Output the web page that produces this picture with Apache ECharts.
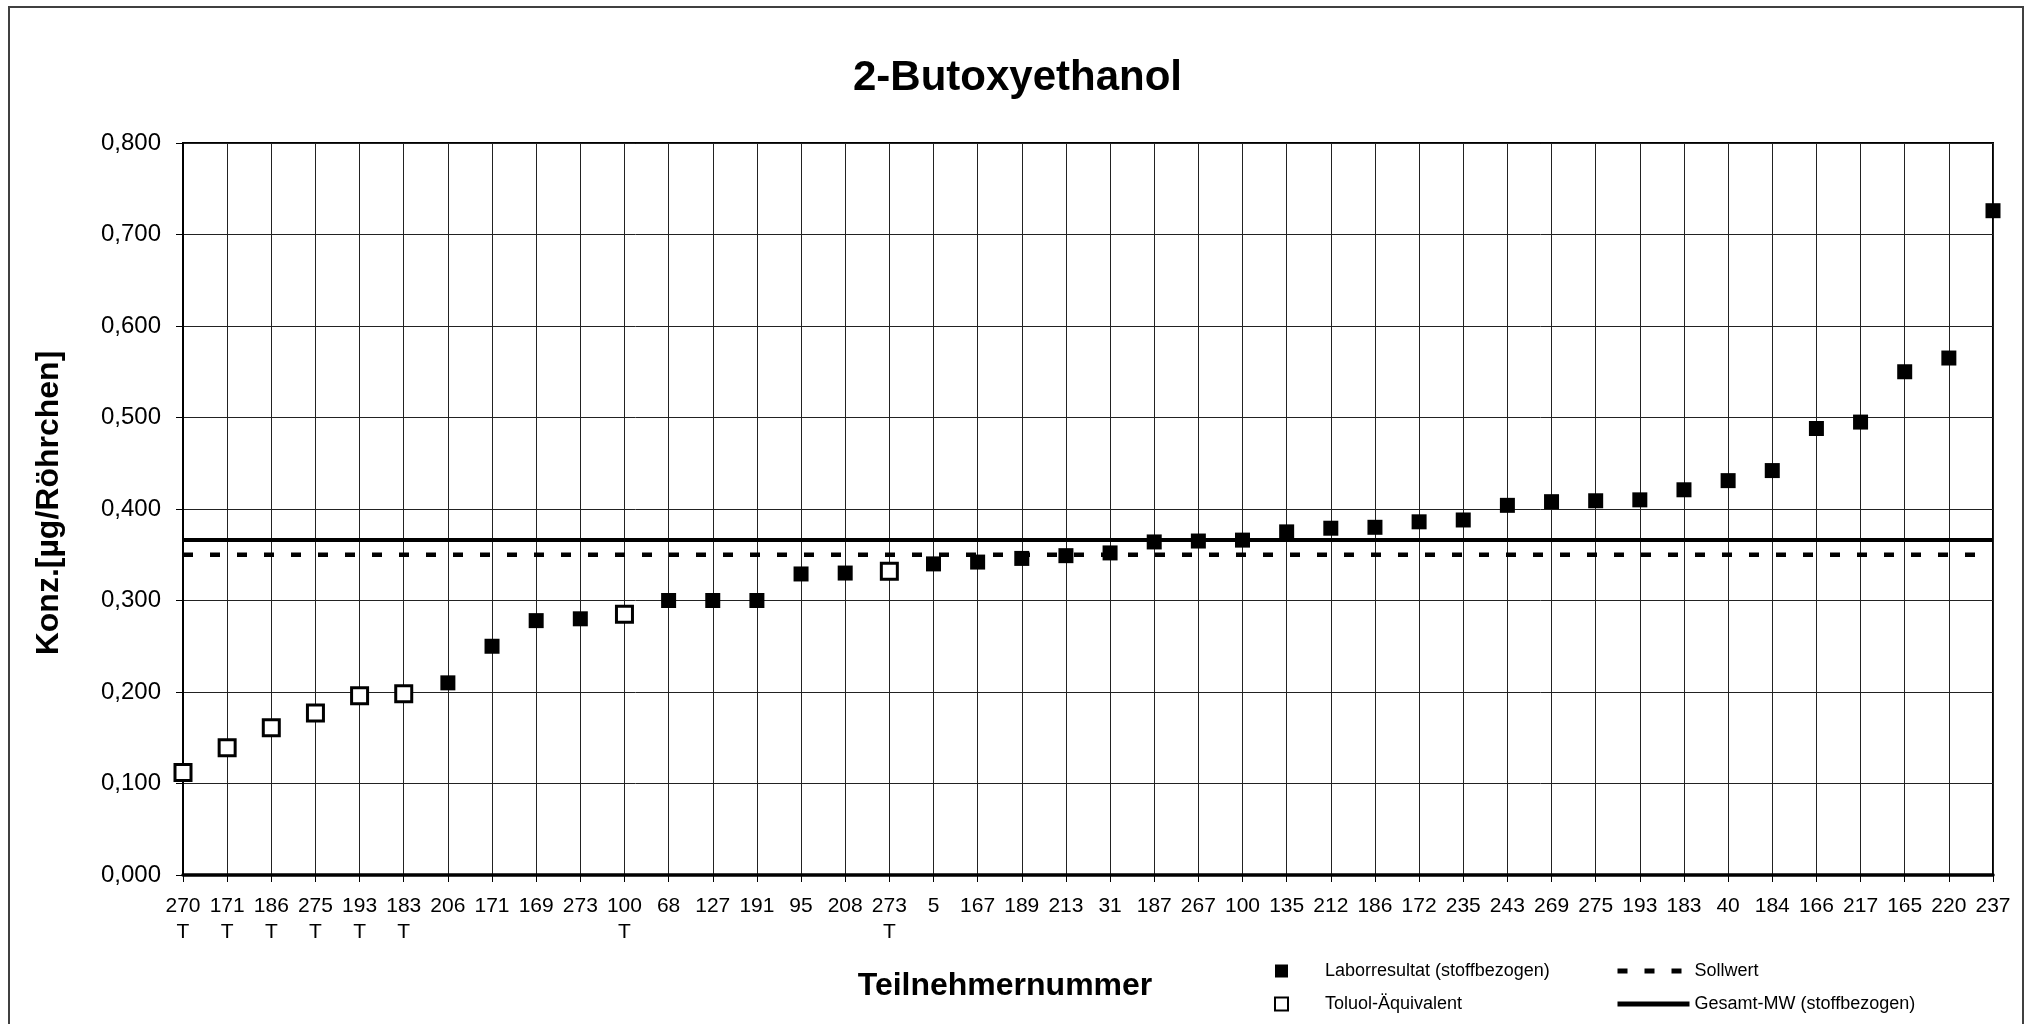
<!DOCTYPE html>
<html>
<head>
<meta charset="utf-8">
<title>2-Butoxyethanol</title>
<script src="https://cdn.jsdelivr.net/npm/echarts@6/dist/echarts.min.js"></script>
<style>
  html, body { margin: 0; padding: 0; background: #fff; }
  #chart { width: 2035px; height: 1024px; }
</style>
</head>
<body>
<div id="chart"></div>
<script>
// Teilnehmernummern, sortiert nach Ergebnis
const participants = ['270', '171', '186', '275', '193', '183', '206', '171', '169', '273', '100', '68', '127', '191', '95', '208', '273', '5', '167', '189', '213', '31', '187', '267', '100', '135', '212', '186', '172', '235', '243', '269', '275', '193', '183', '40', '184', '166', '217', '165', '220', '237'];
// 1 = Toluol-Äquivalent (offenes Quadrat, "T" unter der Nummer)
const toluolFlags = [1, 1, 1, 1, 1, 1, 0, 0, 0, 0, 1, 0, 0, 0, 0, 0, 1, 0, 0, 0, 0, 0, 0, 0, 0, 0, 0, 0, 0, 0, 0, 0, 0, 0, 0, 0, 0, 0, 0, 0, 0, 0];
const results = [0.112, 0.139, 0.161, 0.177, 0.196, 0.198, 0.210, 0.250, 0.278, 0.280, 0.285, 0.300, 0.300, 0.300, 0.329, 0.330, 0.332, 0.340, 0.342, 0.346, 0.349, 0.352, 0.364, 0.365, 0.366, 0.375, 0.379, 0.380, 0.386, 0.388, 0.404, 0.408, 0.409, 0.410, 0.421, 0.431, 0.442, 0.488, 0.495, 0.550, 0.565, 0.726];
const sollwert = 0.35;
const gesamtMW = 0.366;
const yMin = 0;
const yMax = 0.8;
const yStep = 0.1;

const FONT = '"Liberation Sans", Arial, sans-serif';

const labSeries = results.map((v, i) => (toluolFlags[i] ? '-' : v));
const toluolSeries = results.map((v, i) => (toluolFlags[i] ? v : '-'));
const xLabels = participants.map((p, i) => (toluolFlags[i] ? p + '\nT' : p));

const chart = echarts.init(document.getElementById('chart'), null, { renderer: 'canvas' });

const option = {
  backgroundColor: '#fff',
  animation: false,
  textStyle: { fontFamily: FONT, color: '#000' },
  title: {
    text: '2-Butoxyethanol',
    left: 'center',
    top: 52,
    textStyle: { fontFamily: FONT, fontSize: 42, fontWeight: 'bold', color: '#000', lineHeight: 42 }
  },
  // Rahmen um das ganze Diagramm
  graphic: [{
    type: 'rect',
    shape: { x: 9, y: 7, width: 2014, height: 1030 },
    style: { fill: 'none', stroke: '#404040', lineWidth: 2 },
    silent: true,
    z: -1
  }],
  legend: [
    {
      orient: 'vertical',
      left: 1269,
      top: 957,
      itemWidth: 13,
      itemHeight: 13,
      itemGap: 15,
      textStyle: { fontFamily: FONT, fontSize: 18, color: '#000', lineHeight: 18, padding: [0, 0, 0, 32] },
      data: [
        { name: 'Laborresultat (stoffbezogen)', itemStyle: { color: '#000', borderWidth: 0, opacity: 1 } },
        { name: 'Toluol-Äquivalent', itemStyle: { color: '#fff', borderColor: '#000', borderWidth: 2, opacity: 1 } }
      ]
    },
    {
      orient: 'vertical',
      left: 1610,
      top: 957,
      itemWidth: 72,
      itemHeight: 13,
      itemGap: 15,
      lineStyle: { color: '#000', width: 5, type: 'inherit' },
      textStyle: { fontFamily: FONT, fontSize: 18, color: '#000', lineHeight: 18 },
      data: [
        { name: 'Sollwert', itemStyle: { opacity: 0 } },
        { name: 'Gesamt-MW (stoffbezogen)', itemStyle: { opacity: 0 } }
      ]
    }
  ],
  grid: {
    left: 183,
    right: 42,
    top: 143,
    bottom: 149,
    show: true,
    borderColor: '#000',
    borderWidth: 2
  },
  xAxis: {
    type: 'category',
    data: xLabels,
    boundaryGap: false,
    name: 'Teilnehmernummer',
    nameLocation: 'middle',
    nameGap: 95,
    nameTextStyle: { fontFamily: FONT, fontSize: 32, fontWeight: 'bold', color: '#000', padding: [0, 166, 0, 0] },
    axisLine: { show: true, lineStyle: { color: '#000', width: 3.5 } },
    axisTick: { show: true, inside: false, length: 7, lineStyle: { color: '#000', width: 1 } },
    axisLabel: { interval: 0, margin: 18, fontFamily: FONT, fontSize: 21, color: '#000', lineHeight: 26 },
    splitLine: { show: true, lineStyle: { color: '#222', width: 1 } }
  },
  yAxis: {
    type: 'value',
    min: yMin,
    max: yMax,
    interval: yStep,
    name: 'Konz.[µg/Röhrchen]',
    nameLocation: 'middle',
    nameGap: 118,
    nameTextStyle: { fontFamily: FONT, fontSize: 32, fontWeight: 'bold', color: '#000', padding: [0, 0, 0, 12] },
    axisLine: { show: true, lineStyle: { color: '#000', width: 2 } },
    axisTick: { show: true, inside: false, length: 7, lineStyle: { color: '#000', width: 1 } },
    axisLabel: {
      margin: 22,
      fontFamily: FONT,
      fontSize: 24,
      color: '#000',
      formatter: v => v.toFixed(3).replace('.', ',')
    },
    splitLine: { show: true, lineStyle: { color: '#222', width: 1 } }
  },
  series: [
    {
      name: 'Sollwert',
      type: 'line',
      data: participants.map(() => sollwert),
      symbol: 'none',
      silent: true,
      lineStyle: { color: '#000', width: 4.5, type: [10, 17] },
      itemStyle: { color: '#000' },
      z: 2
    },
    {
      name: 'Gesamt-MW (stoffbezogen)',
      type: 'line',
      data: participants.map(() => gesamtMW),
      symbol: 'none',
      silent: true,
      lineStyle: { color: '#000', width: 4, type: 'solid' },
      itemStyle: { color: '#000' },
      z: 2
    },
    {
      name: 'Laborresultat (stoffbezogen)',
      type: 'scatter',
      data: labSeries,
      symbol: 'rect',
      symbolSize: 15,
      itemStyle: { color: '#000', opacity: 1 },
      z: 3
    },
    {
      name: 'Toluol-Äquivalent',
      type: 'scatter',
      data: toluolSeries,
      symbol: 'rect',
      symbolSize: 16,
      itemStyle: { color: '#fff', borderColor: '#000', borderWidth: 3, opacity: 1 },
      z: 3
    }
  ]
};

chart.setOption(option);
</script>
</body>
</html>
